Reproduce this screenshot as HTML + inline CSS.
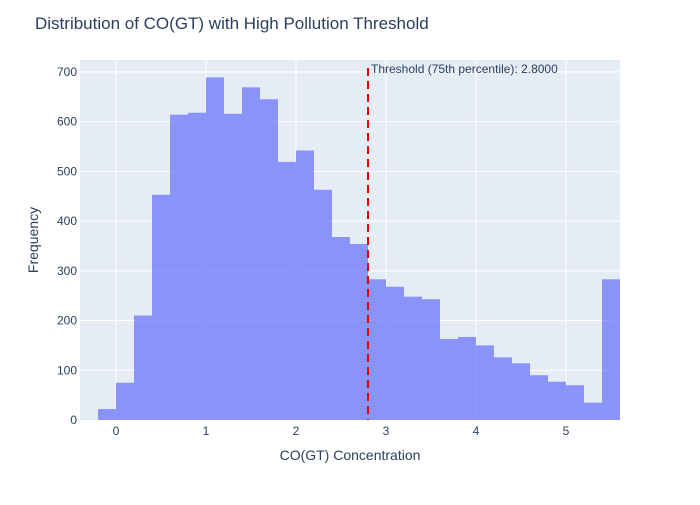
<!DOCTYPE html>
<html><head><meta charset="utf-8"><style>
body{margin:0;background:#fff;font-family:"Liberation Sans",Arial,sans-serif}
</style></head><body>
<svg id="chart" width="700" height="500" xmlns="http://www.w3.org/2000/svg">
<rect x="0" y="0" width="700" height="500" fill="#fff"/>
<rect x="80" y="60" width="540" height="360" fill="#E5ECF6"/>
<g id="grid"></g><g id="bars"></g><g id="ticks"></g>
<text x="35" y="29" font-size="17" fill="#2a3f5f">Distribution of CO(GT) with High Pollution Threshold</text>
<text x="350" y="460" font-size="14" fill="#2a3f5f" text-anchor="middle">CO(GT) Concentration</text>
<text x="38" y="240" font-size="14" fill="#2a3f5f" text-anchor="middle" transform="rotate(-90 38 240)">Frequency</text>
</svg>
<script>
const binStarts=[-0.2,0,0.2,0.4,0.6,0.8,1.0,1.2,1.4,1.6,1.8,2.0,2.2,2.4,2.6,2.8,3.0,3.2,3.4,3.6,3.8,4.0,4.2,4.4,4.6,4.8,5.0,5.2,5.4];
const counts=[22,75,210,453,614,618,689,616,669,645,519,542,463,368,354,283,268,248,243,163,167,150,126,114,90,77,70,35,283];
const binWidth=0.2;
const threshold=2.8;
const xTicks=[0,1,2,3,4,5];
const yTicks=[0,100,200,300,400,500,600,700];
const L=80,R=620,T=60,B=420,xMin=-0.4,xMax=5.6,yMax=724;
const sx=v=>L+(v-xMin)/(xMax-xMin)*(R-L);
const sy=v=>B-v/yMax*(B-T);
const ns="http://www.w3.org/2000/svg";
function mk(t,a,p){const e=document.createElementNS(ns,t);for(const k in a)e.setAttribute(k,a[k]);p.appendChild(e);return e;}
const grid=document.getElementById('grid'),bars=document.getElementById('bars'),tk=document.getElementById('ticks');
yTicks.forEach(v=>{
 if(v>0){const g=mk('line',{x1:L,x2:R,y1:sy(v),y2:sy(v),stroke:'#fff','stroke-width':1},grid);
 
 }
 const t=mk('text',{x:L-3,y:sy(v)+4,'font-size':12,fill:'#2a3f5f','text-anchor':'end'},tk);
 
 
 t.textContent=v;
});
xTicks.forEach(v=>{
 const g=mk('line',{x1:sx(v),x2:sx(v),y1:T,y2:B,stroke:'#fff','stroke-width':1},grid);
 
 
 const t=mk('text',{x:sx(v),y:B+15,'font-size':12,fill:'#2a3f5f','text-anchor':'middle'},tk);
 
 
 t.textContent=v;
});
counts.forEach((c,i)=>{
 const x0=sx(binStarts[i]),x1=sx(binStarts[i]+binWidth);
 const r=mk('rect',{x:x0,y:sy(c),width:x1-x0,height:B-sy(c),fill:'#636efa','fill-opacity':0.7},bars);
 
 
});
const tl=mk('line',{x1:sx(threshold),x2:sx(threshold),y1:68,y2:B,stroke:'#e00','stroke-width':2,'stroke-dasharray':'8,5'},tk);


const ann=mk('text',{x:sx(threshold)+3,y:73,'font-size':12,fill:'#2a3f5f'},tk);


ann.textContent='Threshold (75th percentile): '+threshold.toFixed(4);
</script>
</body></html>
